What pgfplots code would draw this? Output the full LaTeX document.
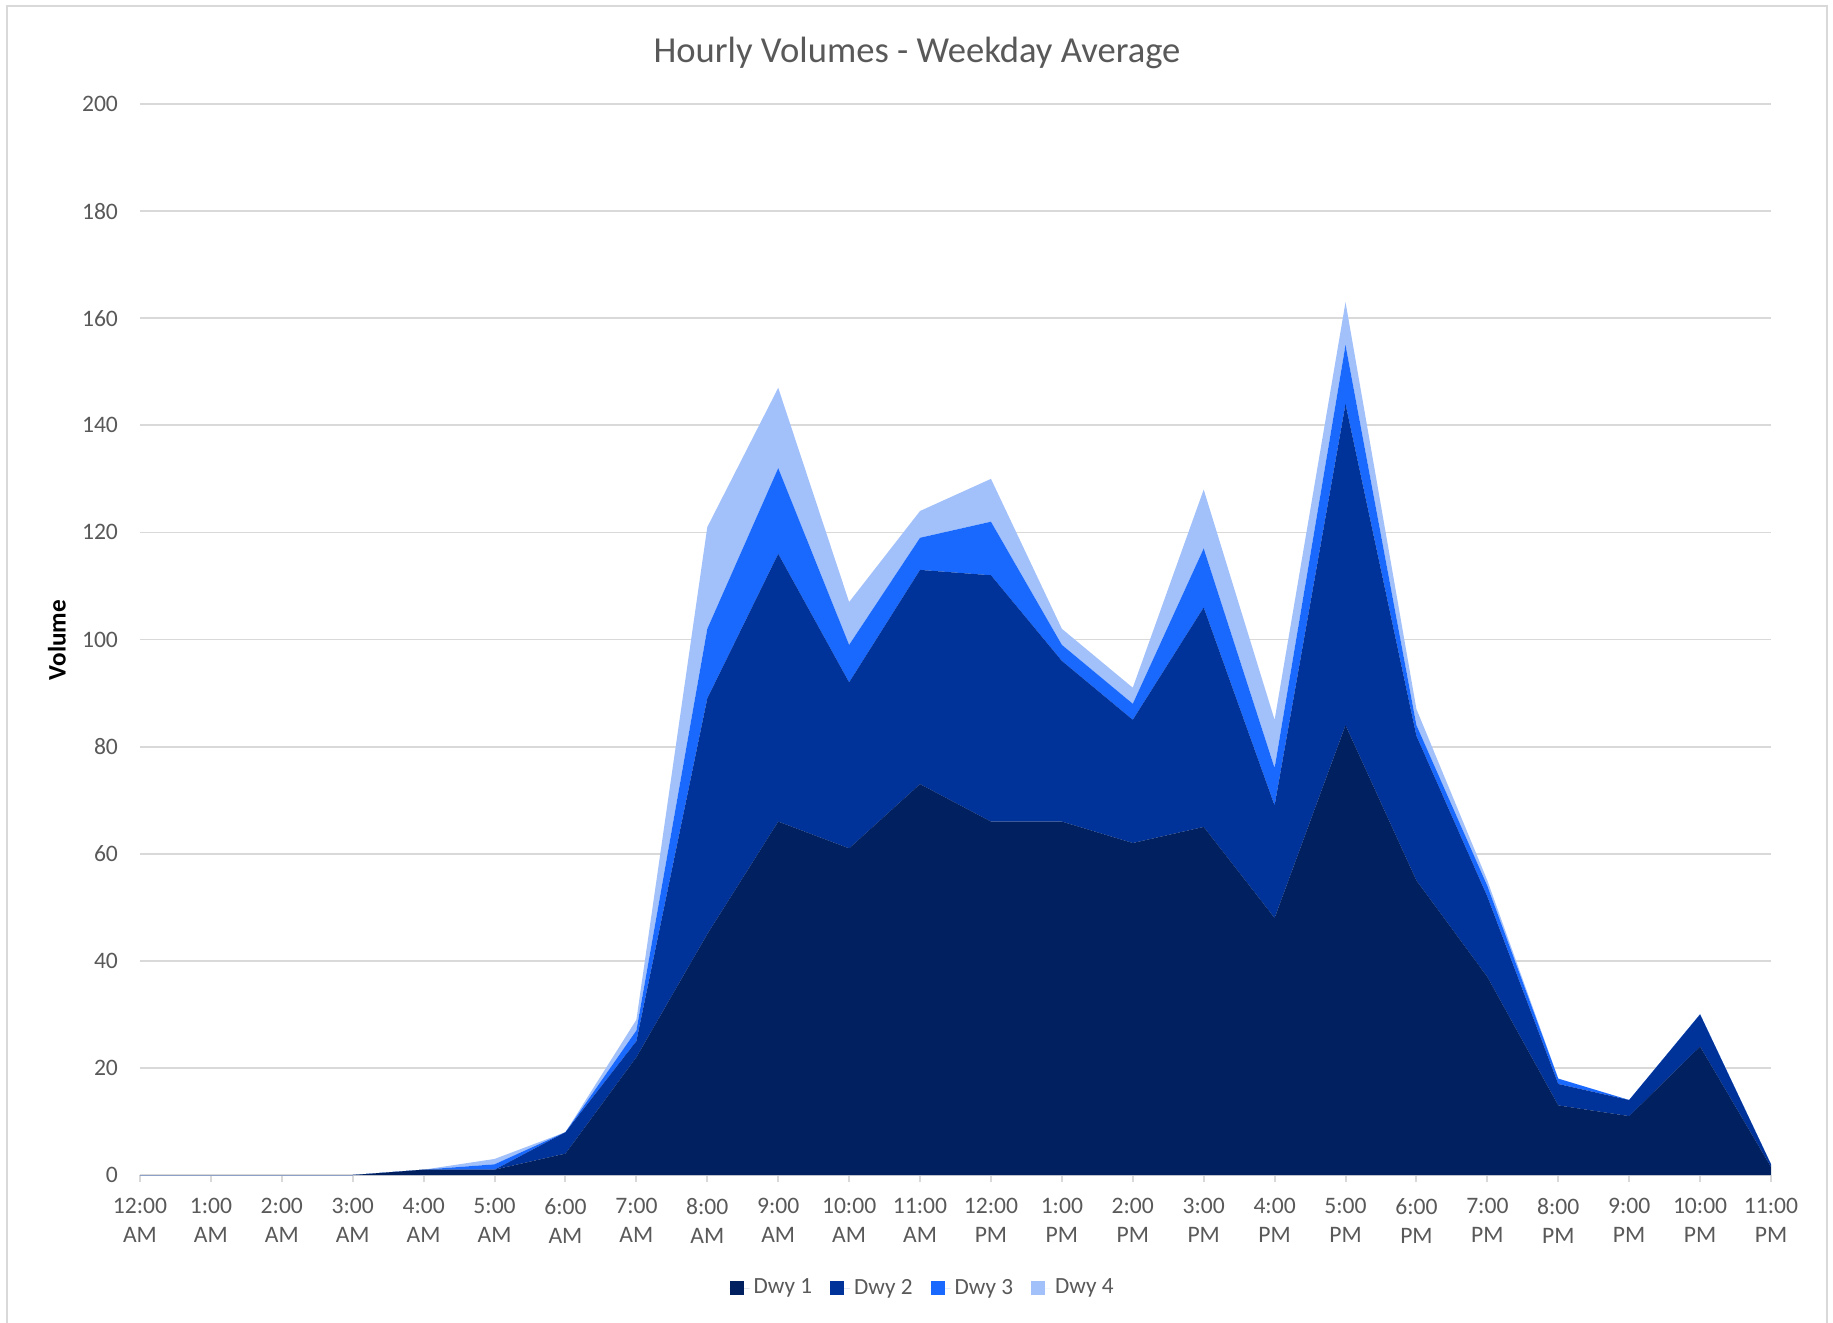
\documentclass[border=0pt]{standalone}
\usepackage{pgfplots}
\pgfplotsset{compat=1.18}
\usepackage{fontspec}
\setmainfont{Carlito}
\definecolor{dwyA}{HTML}{002060}
\definecolor{dwyB}{HTML}{003399}
\definecolor{dwyC}{HTML}{1A69FF}
\definecolor{dwyD}{HTML}{A2C1FB}
\definecolor{txt}{HTML}{595959}
\definecolor{gridc}{HTML}{D9D9D9}
\begin{document}
\begin{tikzpicture}
\useasboundingbox (0,0) rectangle (916.5pt,-661.5pt);
\draw[gridc, line width=1pt] (3.5pt,-661.5pt) -- (3.5pt,-3pt) -- (913.5pt,-3pt) -- (913.5pt,-661.5pt);
\node[txt, font=\fontsize{18.3}{22}\selectfont] at (458.5pt,-26.3pt) {Hourly Volumes - Weekday Average};
\node[rotate=90, font=\fontsize{12.6}{15}\selectfont\bfseries] at (28.5pt,-320pt) {Volume};
\begin{axis}[
  at={(70pt,-587.5pt)}, anchor=south west,
  scale only axis, width=815.5pt, height=535.5pt,
  xmin=0, xmax=23, ymin=0, ymax=200,
  stack plots=y,
  axis x line=bottom, axis y line=left,
  x axis line style={draw=gridc, line width=1pt, -},
  y axis line style={draw=none},
  ymajorgrids, grid style={draw=gridc, line width=0.9pt},
  ytick={0,20,...,200},
  xtick={0,...,23},
  xticklabels={{12:00\\AM},{1:00\\AM},{2:00\\AM},{3:00\\AM},{4:00\\AM},{5:00\\AM},{6:00\\AM},{7:00\\AM},{8:00\\AM},{9:00\\AM},{10:00\\AM},{11:00\\AM},{12:00\\PM},{1:00\\PM},{2:00\\PM},{3:00\\PM},{4:00\\PM},{5:00\\PM},{6:00\\PM},{7:00\\PM},{8:00\\PM},{9:00\\PM},{10:00\\PM},{11:00\\PM}},
  xticklabel style={align=center, txt, font=\fontsize{11.8}{14.7}\selectfont},
  yticklabel style={txt, font=\fontsize{11.8}{14}\selectfont},
  /pgf/number format/assume math mode=true,
  xtick style={draw=gridc, line width=1pt},
  ytick style={draw=none},
  tick align=outside, major tick length=3.5pt,
  x tick label style={yshift=-4.5pt},
  y tick label style={xshift=-4pt},
  legend columns=4,
  legend style={at={(0.4805,-0.1055)}, anchor=center, draw=none, fill=none,
    font=\fontsize{11.6}{14}\selectfont, text=txt,
    /tikz/every even column/.append style={column sep=7pt}},
  legend image code/.code={\fill[#1] (0pt,-3.5pt) rectangle (7pt,3.5pt); \path (0pt,0pt) -- (10pt,0pt);},
]
\addplot[fill=dwyA, draw=none] coordinates {(0,0)(1,0)(2,0)(3,0)(4,1)(5,1)(6,4)(7,22)(8,45)(9,66)(10,61)(11,73)(12,66)(13,66)(14,62)(15,65)(16,48)(17,84)(18,55)(19,37)(20,13)(21,11)(22,24)(23,1.5)} \closedcycle;
\addlegendentry{Dwy 1}
\addplot[fill=dwyB, draw=none] coordinates {(0,0)(1,0)(2,0)(3,0)(4,0)(5,0)(6,4)(7,3)(8,44)(9,50)(10,31)(11,40)(12,46)(13,30)(14,23)(15,41)(16,21)(17,60)(18,27)(19,15)(20,4)(21,3)(22,6)(23,0.5)} \closedcycle;
\addlegendentry{Dwy 2}
\addplot[fill=dwyC, draw=none] coordinates {(0,0)(1,0)(2,0)(3,0)(4,0)(5,1)(6,0)(7,2)(8,13)(9,16)(10,7)(11,6)(12,10)(13,3)(14,3)(15,11)(16,7)(17,11)(18,2)(19,2)(20,1)(21,0)(22,0)(23,0)} \closedcycle;
\addlegendentry{Dwy 3}
\addplot[fill=dwyD, draw=none] coordinates {(0,0)(1,0)(2,0)(3,0)(4,0)(5,1)(6,0)(7,2)(8,19)(9,15)(10,8)(11,5)(12,8)(13,3)(14,3)(15,11)(16,9)(17,8)(18,3)(19,1)(20,0)(21,0)(22,0)(23,0)} \closedcycle;
\addlegendentry{Dwy 4}
\end{axis}
\end{tikzpicture}
\end{document}
